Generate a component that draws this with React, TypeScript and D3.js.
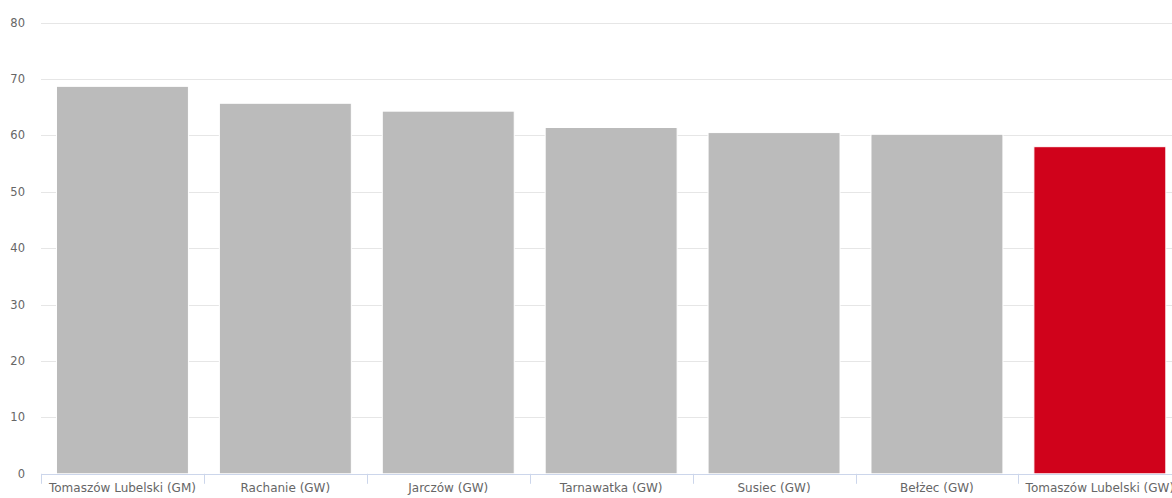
import React from "react";
import * as d3 from "d3";

const categories = [
  "Tomaszów Lubelski (GM)",
  "Rachanie (GW)",
  "Jarczów (GW)",
  "Tarnawatka (GW)",
  "Susiec (GW)",
  "Bełżec (GW)",
  "Tomaszów Lubelski (GW)",
];
const values = [68.7, 65.7, 64.3, 61.4, 60.5, 60.2, 58.0];
const highlightIndex = 6;
const yTicks = [0, 10, 20, 30, 40, 50, 60, 70, 80];

const W = 1172;
const H = 498;
const left = 41;
const right = 41 + 7 * 162.9;
const top = 22.6;
const bottom = 473.8;

export default function App() {
  const x = d3.scaleBand<string>().domain(categories).range([left, right]).paddingInner(0).paddingOuter(0);
  const y = d3.scaleLinear().domain([0, 80]).range([bottom, top]);
  const bw = x.bandwidth();
  const pad = bw * 0.095;
  const font = "'DejaVu Sans', sans-serif";

  return (
    <div style={{ position: "fixed", left: 0, top: 0 }}>
      <svg width={W} height={H} style={{ display: "block", background: "#fff" }}>
        {yTicks.map((t) => (
          <g key={t}>
            {t > 0 && (
              <line x1={left} x2={W + 20} y1={Math.round(y(t)) + 0.5} y2={Math.round(y(t)) + 0.5} stroke="#e6e6e6" strokeWidth={1} />
            )}
            <text x={25} y={y(t) + 4} textAnchor="end" fontSize={11.5} fill="#666" fontFamily={font}>
              {t}
            </text>
          </g>
        ))}
        {categories.map((c, i) => (
          <rect
            key={c + i}
            x={(x(c) as number) + pad}
            y={y(values[i])}
            width={bw - 2 * pad}
            height={bottom - y(values[i])}
            fill={i === highlightIndex ? "#d0021b" : "#bbbbbb"}
            stroke="#ffffff"
            strokeWidth={1}
          />
        ))}
        <line x1={left} x2={W + 20} y1={Math.round(bottom) + 0.5} y2={Math.round(bottom) + 0.5} stroke="#ccd6eb" strokeWidth={1} />
        {categories.map((c, i) => (
          <line
            key={"t" + i}
            x1={Math.round(x(c) as number) + 0.5}
            x2={Math.round(x(c) as number) + 0.5}
            y1={bottom}
            y2={bottom + 10}
            stroke="#ccd6eb"
            strokeWidth={1}
          />
        ))}
        {categories.map((c, i) => (
          <text
            key={"l" + i}
            x={(x(c) as number) + bw / 2}
            y={492}
            textAnchor="middle"
            fontSize={12}
            fill="#666"
            fontFamily={font}
          >
            {c}
          </text>
        ))}
      </svg>
    </div>
  );
}
